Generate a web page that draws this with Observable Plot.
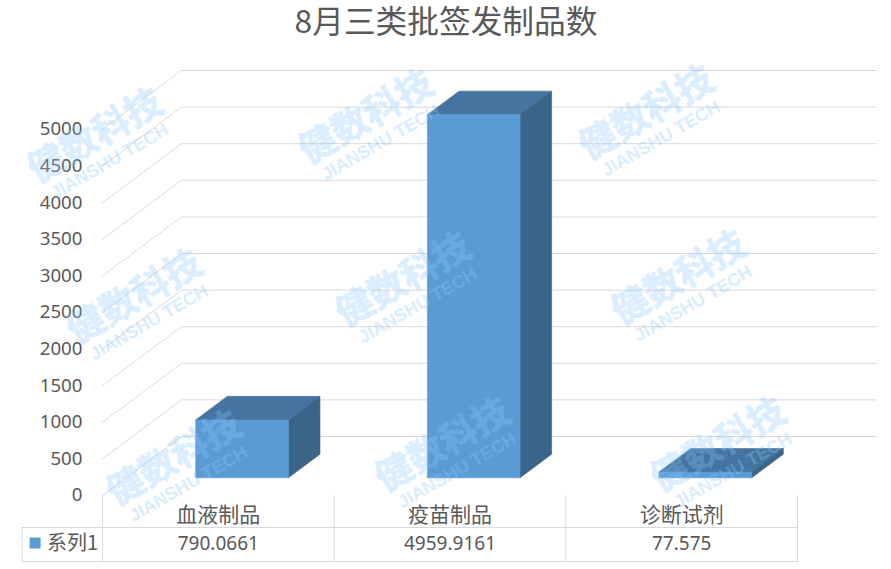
<!DOCTYPE html>
<html lang="zh">
<head>
<meta charset="utf-8">
<script src="https://cdn.jsdelivr.net/npm/d3@7"></script>
<script src="https://cdn.jsdelivr.net/npm/@observablehq/plot@0.6"></script>
<style>
html,body{margin:0;padding:0;background:#fff;}
#chart{width:891px;height:569px;}
svg{display:block;background:transparent;}
</style>
</head>
<body>
<div id="chart"></div>
<script>
const titleText = "8月三类批签发制品数";
const categories = ["血液制品", "疫苗制品", "诊断试剂"];
const seriesName = "系列1";
const values = [790.0661, 4959.9161, 77.575];
const yTicks = [0, 500, 1000, 1500, 2000, 2500, 3000, 3500, 4000, 4500, 5000];
const watermarks = [
  [-0.03, 4904], [1.14, 5164], [2.35, 5219],
  [0.14, 2705], [1.30, 2937], [2.49, 2964],
  [0.31, 500], [1.47, 683], [2.66, 683]
];

// Oblique projection: depth 0..1 shifts a point along the wall diagonals (in data units).
const depthX = 0.341, depthY = 806;
const P = (x, v, d) => ({x: x + d * depthX, y: v + d * depthY});
const barX0 = 0.3, barX1 = 0.7, barD0 = 0.3, barD1 = 0.7;

const frontFaces = [], topFaces = [], sideFaces = [];
values.forEach((v, i) => {
  const a = i + barX0, b = i + barX1;
  frontFaces.push(...[[a,0,barD0],[b,0,barD0],[b,v,barD0],[a,v,barD0],[a,0,barD0]].map(p => ({...P(...p), k: i})));
  topFaces.push(...[[a,v,barD0],[b,v,barD0],[b,v,barD1],[a,v,barD1],[a,v,barD0]].map(p => ({...P(...p), k: i})));
  sideFaces.push(...[[b,0,barD0],[b,0,barD1],[b,v,barD1],[b,v,barD0],[b,0,barD0]].map(p => ({...P(...p), k: i})));
});
const grid = yTicks.flatMap(v => [P(0,v,0), P(0,v,1), P(3,v,1)].map(p => ({...p, k: v})));

// Data table under the plot, expressed in the y scale's units below zero.
const rowTop = 0, rowMid = -437, rowBottom = -902, tableLeft = -0.347;
const tableV = [0, 1, 2, 3].flatMap(x => [{x, y: rowTop, k: x}, {x, y: rowBottom, k: x}]);
const tableH = [
  {x: tableLeft, y: rowMid, k: "m"}, {x: 3, y: rowMid, k: "m"},
  {x: tableLeft, y: rowBottom, k: "b"}, {x: 3, y: rowBottom, k: "b"},
  {x: tableLeft, y: rowMid, k: "l"}, {x: tableLeft, y: rowBottom, k: "l"}
];

const ink = "#595959", line = "#D9D9D9", wmInk = "#8CC8FF";
const face = (data, fill) => Plot.line(data, {x: "x", y: "y", z: "k", fill, stroke: fill, strokeWidth: 0.6, curve: "linear"});

const plot = Plot.plot({
  width: 891, height: 569,
  marginTop: 0, marginRight: 0, marginBottom: 0, marginLeft: 0,
  style: {background: "transparent"},
  x: {domain: [0, 3], range: [102, 797], axis: null},
  y: {domain: [0, 5000], range: [495, 129], axis: null},
  marks: [
    Plot.line(grid, {x: "x", y: "y", z: "k", stroke: line, strokeWidth: 1}),
    Plot.axisY({anchor: "left", ticks: yTicks, tickSize: 0, tickPadding: 0, dx: 82, label: null,
      tickFormat: d => String(d), fontSize: 18.7, fontFamily: "Noto Sans", fill: ink}),
    face(topFaces, "#44749F"),
    face(sideFaces, "#3A6488"),
    face(frontFaces, "#5B9BD5"),
    Plot.line(tableV, {x: "x", y: "y", z: "k", stroke: line, strokeWidth: 1}),
    Plot.line(tableH, {x: "x", y: "y", z: "k", stroke: line, strokeWidth: 1}),
    Plot.text(categories, {x: (d, i) => i + 0.5, y: rowTop, dy: 20, text: d => d, fontSize: 21,
      fontFamily: "Noto Sans CJK SC", fill: ink}),
    Plot.text(values, {x: (d, i) => i + 0.5, y: rowTop, dy: 48, text: d => String(d), fontSize: 19,
      fontFamily: "Noto Sans", fill: ink}),
    Plot.text([seriesName], {x: tableLeft, y: rowTop, dx: 25, dy: 48, textAnchor: "start", text: d => d, fontSize: 20,
      fontFamily: "Noto Sans CJK SC", fill: ink}),
    Plot.dot([seriesName], {x: tableLeft, y: rowTop, dx: 13, dy: 47.5, symbol: "square", r: 6.2, fill: "#5B9BD5", stroke: "none"}),
    Plot.text(watermarks, {x: d => d[0], y: d => d[1], text: () => "健数科技", rotate: -30, fontSize: 37, fontWeight: 700,
      fontFamily: "Noto Sans CJK SC", fill: wmInk, stroke: wmInk, strokeWidth: 0.8, opacity: 0.3}),
    Plot.text(watermarks, {x: d => d[0], y: d => d[1], dx: 14, dy: 25, text: () => "JIANSHU TECH", rotate: -30, fontSize: 18, fontWeight: 700,
      fontFamily: "Liberation Sans", fill: wmInk, opacity: 0.32}),
    Plot.text([titleText], {frameAnchor: "top", lineAnchor: "middle", dy: 22, text: d => d, fontSize: 31.7,
      fontFamily: "Noto Sans CJK SC", fill: ink})
  ]
});
document.getElementById("chart").appendChild(plot);
</script>
</body>
</html>
